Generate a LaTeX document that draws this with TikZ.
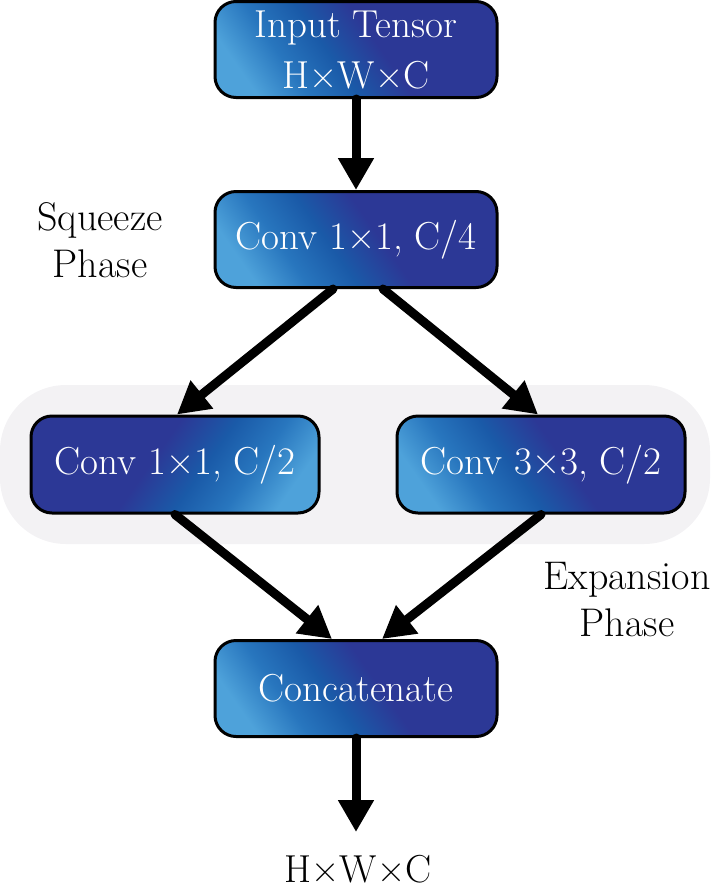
\documentclass[tikz,border=0pt]{standalone}
\usetikzlibrary{arrows.meta}
\definecolor{lightb}{RGB}{78,162,218}
\definecolor{lmidb}{RGB}{40,118,190}
\definecolor{midb}{RGB}{26,90,168}
\definecolor{navyb}{RGB}{44,56,150}
\definecolor{bandgray}{RGB}{243,242,244}
\pgfdeclarehorizontalshading{boxshade}{100bp}{color(0bp)=(lightb); color(24bp)=(lightb); color(34bp)=(lmidb); color(44bp)=(midb); color(55bp)=(navyb); color(100bp)=(navyb)}
\tikzset{
  blk/.style={draw=black, line width=3pt, rounded corners=21pt, shading=boxshade,
    text=white, align=center, inner sep=0pt, font=\fontsize{39}{51}\selectfont},
  lightleft/.style={shading angle=35},
  lightright/.style={shading angle=145},
  wide/.style={minimum width=282pt, minimum height=96pt},
  narrow/.style={minimum width=288pt, minimum height=97pt},
  flow/.style={line width=9pt, line cap=round, -{Triangle[width=34pt,length=32pt]}},
  lbl/.style={align=center, inner sep=0pt, font=\fontsize{40}{47}\selectfont}
}
\begin{document}
\begin{tikzpicture}[x=1pt,y=-1pt]
\useasboundingbox (0,0) rectangle (722,895);
% background band
\fill[bandgray, rounded corners=66pt] (0,385) rectangle (710,544);
% boxes
\node[blk, wide, lightleft] (in) at (356,49.5) {Input Tensor\\H×W×C};
\node[blk, wide, lightleft] (c4) at (356,239.5) {Conv 1×1, C/4};
\node[blk, narrow, lightright] (l) at (175,464.5) {Conv 1×1, C/2};
\node[blk, narrow, lightleft] (r) at (541,464.5) {Conv 3×3, C/2};
\node[blk, wide, lightleft] (cat) at (356,688.5) {Concatenate};
% labels
\node[lbl] (sq) at (100,240) {Squeeze\\Phase};
\node[lbl] (ex) at (627,600) {Expansion\\Phase};
\node[lbl, anchor=base, font=\fontsize{39}{47}\selectfont] (outt) at (358,882) {H×W×C};
\coordinate (outend) at (356,832);
% arrows
\draw[flow] (in.south) -- (c4.north);
\draw[flow] ([xshift=-23pt]c4.south) -- ([xshift=2pt]l.north);
\draw[flow] ([xshift=27pt]c4.south) -- ([xshift=-3pt]r.north);
\draw[flow] (l.south) -- ([xshift=-24pt]cat.north);
\draw[flow] (r.south) -- ([xshift=26pt]cat.north);
\draw[flow] (cat.south) -- (outend);
\end{tikzpicture}
\end{document}
